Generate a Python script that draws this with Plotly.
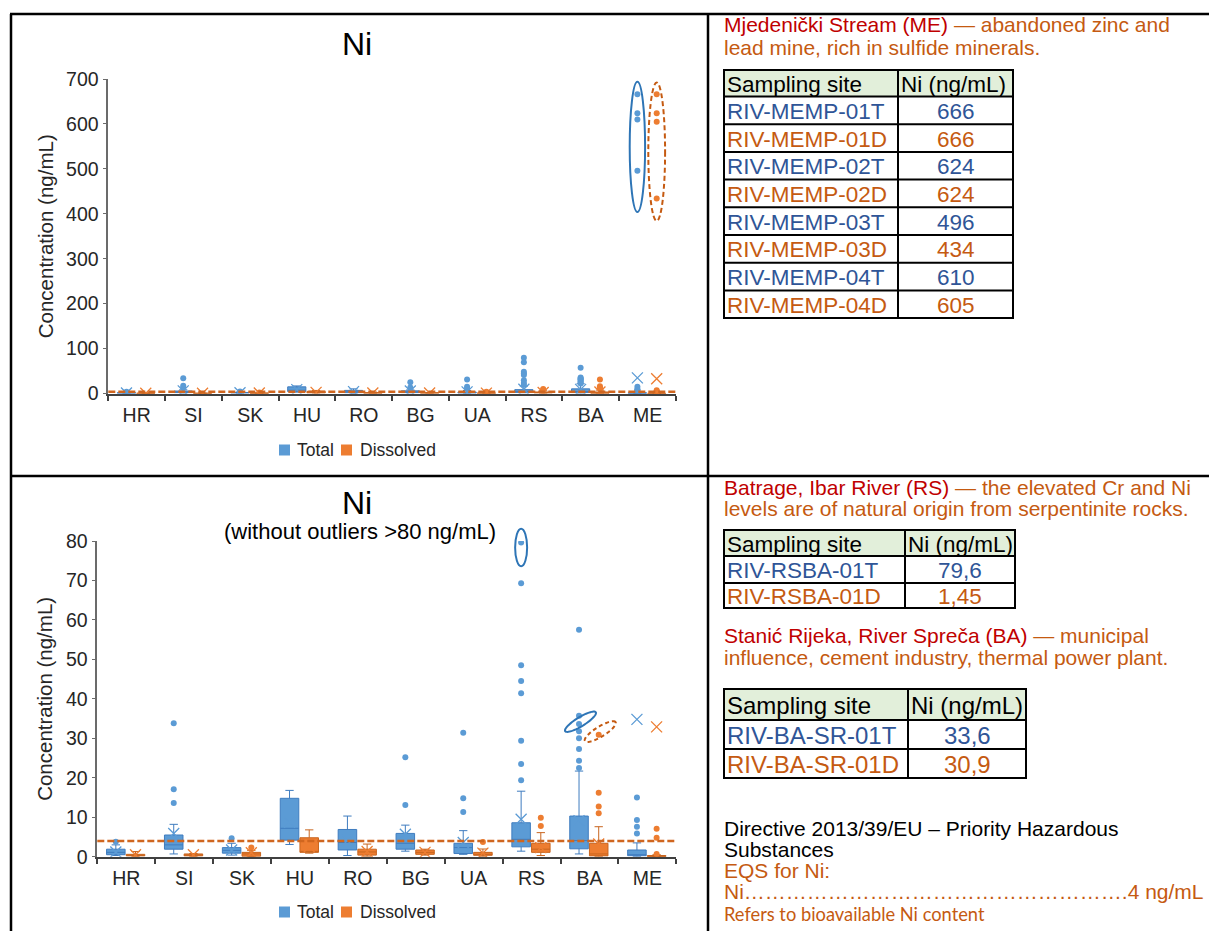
import math
import plotly.graph_objects as go

W, H = 1209, 931
FONT = "Liberation Sans, Arial, sans-serif"

# ---------------------------------------------------------------- data
countries = ["HR", "SI", "SK", "HU", "RO", "BG", "UA", "RS", "BA", "ME"]
series_names = ["Total", "Dissolved"]

# Total Ni, box-and-whisker statistics (ng/mL)
total_q1 = [0.5, 1.9, 0.9, 4.2, 1.7, 1.9, 0.8, 2.5, 2.0, 0.25]
total_median = [1.1, 3.0, 1.6, 7.2, 3.6, 3.4, 2.3, 4.4, 4.1, 0.5]
total_q3 = [1.9, 5.5, 2.3, 14.8, 6.9, 5.9, 3.4, 8.6, 10.3, 1.7]
total_low = [0.3, 0.7, 0.4, 3.1, 0.3, 1.4, 0.6, 1.4, 0.7, 0.1]
total_high = [3.0, 8.2, 3.4, 16.8, 10.3, 8.0, 6.6, 16.6, 21.7, 3.5]
total_mean = [1.2, 5.9, 1.7, 8.7, 4.1, 5.7, 3.6, 9.5, 9.1, 34.8]
total_outliers = [
    [3.8], [33.8, 17.1, 13.6], [4.65], [], [], [25.2, 13.1],
    [31.4, 14.8, 11.3],
    [79.6, 69.3, 48.5, 44.5, 41.4, 29.4, 23.5, 19.4],
    [57.5, 35.7, 33.6, 31.8, 30.0, 27.3, 24.3, 22.5],
    [15.0, 9.3, 7.6, 5.9],
]

# Dissolved Ni, box-and-whisker statistics (ng/mL)
diss_q1 = [0.2, 0.2, 0.1, 1.1, 0.4, 0.6, 0.35, 1.1, 0.2, 0.05]
diss_median = [0.3, 0.3, 0.7, 1.3, 1.2, 1.1, 0.6, 1.9, 0.7, 0.1]
diss_q3 = [0.6, 0.7, 1.1, 4.8, 1.9, 1.7, 1.1, 3.4, 3.4, 0.3]
diss_low = [0.1, 0.1, 0.05, 0.9, 0.1, 0.4, 0.1, 0.3, 0.1, 0.02]
diss_high = [1.3, 0.8, 1.6, 6.8, 3.2, 1.9, 1.95, 6.1, 7.6, 0.5]
diss_mean = [0.5, 0.5, 1.0, 2.5, 1.3, 1.1, 0.9, 2.3, 3.2, 32.9]
diss_outliers = [
    [], [], [2.3], [], [], [], [3.7], [9.9, 7.8],
    [30.9, 16.2, 12.7, 11.0],
    [7.1, 4.8, 0.7],
]

# Mjedenički Stream (ME) samples
me_sites = ["RIV-MEMP-01T", "RIV-MEMP-01D", "RIV-MEMP-02T", "RIV-MEMP-02D",
            "RIV-MEMP-03T", "RIV-MEMP-03D", "RIV-MEMP-04T", "RIV-MEMP-04D"]
me_values = [666, 666, 624, 624, 496, 434, 610, 605]

# Batrage, Ibar River (RS)
rs_sites = ["RIV-RSBA-01T", "RIV-RSBA-01D"]
rs_values = [79.6, 1.45]

# Stanić Rijeka, River Spreča (BA)
ba_sites = ["RIV-BA-SR-01T", "RIV-BA-SR-01D"]
ba_values = [33.6, 30.9]

eqs_ni = 4          # EQS for Ni, ng/mL
outlier_cut = 80    # lower chart omits values above this

# ---------------------------------------------------------------- styling
BLUE = "#5B9BD5"
BLUE_LINE = "#3F7CBF"
ORANGE = "#ED7D31"
ORANGE_LINE = "#C8651F"
EQS_COLOR = "#D0661F"
RED_TXT = "#C00000"
ORG_TXT = "#C55A11"
BLUE_TXT = "#2F5597"

OFF_T, OFF_D, BOX_W = -0.18, 0.16, 0.32

me_total_high = [v for s, v in zip(me_sites, me_values) if s.endswith("T")]
me_diss_high = [v for s, v in zip(me_sites, me_values) if s.endswith("D")]

# plot areas in pixels: (left, right, top, bottom)
AREA_TOP = (108.3, 676.0, 79.0, 393.5)
AREA_BOT = (97.3, 676.3, 541.0, 856.7)


def px(x):
    return x / W


def py(y):
    return 1 - y / H


fig = go.Figure()


def add_chart(xa, ya, include_high):
    tpos = [i + OFF_T for i in range(len(countries))]
    dpos = [i + OFF_D for i in range(len(countries))]
    common = dict(width=BOX_W, whiskerwidth=0.45, boxpoints=False,
                  showlegend=False, hoverinfo="skip", xaxis=xa, yaxis=ya)
    fig.add_trace(go.Box(x=tpos, q1=total_q1, median=total_median, q3=total_q3,
                         lowerfence=total_low, upperfence=total_high,
                         name=series_names[0],
                         fillcolor=BLUE, line=dict(color=BLUE_LINE, width=1),
                         **common))
    fig.add_trace(go.Box(x=dpos, q1=diss_q1, median=diss_median, q3=diss_q3,
                         lowerfence=diss_low, upperfence=diss_high,
                         name=series_names[1],
                         fillcolor=ORANGE, line=dict(color=ORANGE_LINE, width=1),
                         **common))

    for pos, outs, high, color in (
        (tpos, total_outliers, me_total_high, BLUE),
        (dpos, diss_outliers, me_diss_high, ORANGE),
    ):
        xs, ys = [], []
        for i, vals in enumerate(outs):
            extra = high if (include_high and countries[i] == "ME") else []
            for v in list(vals) + list(extra):
                if include_high or v <= outlier_cut:
                    xs.append(pos[i])
                    ys.append(v)
        fig.add_trace(go.Scatter(x=xs, y=ys, mode="markers",
                                 marker=dict(color=color, size=6),
                                 showlegend=False, hoverinfo="skip",
                                 xaxis=xa, yaxis=ya))

    for pos, means, color in ((tpos, total_mean, BLUE), (dpos, diss_mean, ORANGE)):
        fig.add_trace(go.Scatter(x=pos, y=means, mode="markers",
                                 marker=dict(symbol="x-thin-open", size=11, color=color,
                                             line=dict(color=color, width=1.3)),
                                 showlegend=False, hoverinfo="skip",
                                 xaxis=xa, yaxis=ya))

    # EQS line
    fig.add_shape(type="line", xref=f"{xa} domain", yref=ya, x0=0, x1=1,
                  y0=eqs_ni, y1=eqs_ni,
                  line=dict(color=EQS_COLOR, width=2.5, dash="7px,3px"))


add_chart("x", "y", True)
add_chart("x2", "y2", False)

# ---------------------------------------------------------------- axes
tick_font = dict(family=FONT, size=19.5, color="#262626")


def xaxis_cfg(area, anchor):
    return dict(domain=[px(area[0]), px(area[1])], anchor=anchor,
                range=[-0.5, len(countries) - 0.5],
                tickmode="array", tickvals=list(range(len(countries))),
                ticktext=countries, ticks="", tickfont=tick_font,
                ticklabelstandoff=3, automargin=False,
                minor=dict(tickmode="array",
                           tickvals=[i - 0.5 for i in range(len(countries) + 1)],
                           ticks="outside", ticklen=5, tickwidth=1.5,
                           tickcolor="#404040", showgrid=False),
                showline=True, linecolor="#404040", linewidth=2,
                showgrid=False, zeroline=False, fixedrange=True)


def yaxis_cfg(area, anchor, rng, dtick):
    return dict(domain=[py(area[3]), py(area[2])], anchor=anchor,
                range=rng, dtick=dtick, tick0=0, ticks="outside", ticklen=4,
                tickwidth=1.3, tickcolor="#6B6B6B", tickfont=tick_font,
                automargin=False,
                showline=True, linecolor="#6B6B6B", linewidth=1.5,
                showgrid=False, zeroline=False, fixedrange=True)


fig.update_layout(
    xaxis=xaxis_cfg(AREA_TOP, "y"),
    yaxis=yaxis_cfg(AREA_TOP, "x", [0, 700], 100),
    xaxis2=xaxis_cfg(AREA_BOT, "y2"),
    yaxis2=yaxis_cfg(AREA_BOT, "x2", [0, 80], 10),
)

# ---------------------------------------------------------------- highlight ellipses
sx_top = (AREA_TOP[1] - AREA_TOP[0]) / len(countries)
sx_bot = (AREA_BOT[1] - AREA_BOT[0]) / len(countries)
sy_bot = (AREA_BOT[3] - AREA_BOT[2]) / 80.0
me_i = countries.index("ME")
rs_i = countries.index("RS")
ba_i = countries.index("BA")


def bot_paper_y(v):
    # vertical position on the lower chart as a paper fraction (lets a ring
    # reach above the 80 ng/mL top edge without being clipped)
    return py(AREA_BOT[3] - v * sy_bot)


fig.add_shape(type="circle", xref="x", yref="y",
              x0=me_i + OFF_T - 7.7 / sx_top, x1=me_i + OFF_T + 7.7 / sx_top,
              y0=min(me_total_high) - 92, y1=max(me_total_high) + 28,
              line=dict(color="#2E75B6", width=2))
fig.add_shape(type="circle", xref="x", yref="y",
              x0=me_i + OFF_D - 8.4 / sx_top, x1=me_i + OFF_D + 8.4 / sx_top,
              y0=min(me_diss_high) - 50, y1=max(me_diss_high) + 26,
              line=dict(color=ORG_TXT, width=2, dash="5px,3px"))
fig.add_shape(type="circle", xref="x2", yref="paper",
              x0=rs_i + OFF_T - 6 / sx_bot, x1=rs_i + OFF_T + 6 / sx_bot,
              y0=bot_paper_y(rs_values[0] - 6.0), y1=bot_paper_y(rs_values[0] + 3.5),
              line=dict(color="#2E75B6", width=2))


def ellipse_path(cx, cy, a_px, b_px, angle_deg, sx, sy, n=60):
    phi = math.radians(angle_deg)
    pts = []
    for k in range(n + 1):
        t = 2 * math.pi * k / n
        dx = a_px * math.cos(phi) * math.cos(t) - b_px * math.sin(phi) * math.sin(t)
        dy = a_px * math.sin(phi) * math.cos(t) + b_px * math.cos(phi) * math.sin(t)
        pts.append(f"{cx + dx / sx:.5f},{cy + dy / sy:.5f}")
    return "M " + " L ".join(pts) + " Z"


fig.add_shape(type="path", xref="x2", yref="y2",
              path=ellipse_path(ba_i + OFF_T + 0.025, ba_values[0] + 0.6, 18, 4.5, 31.5,
                                sx_bot, sy_bot),
              line=dict(color="#2E75B6", width=2))
fig.add_shape(type="path", xref="x2", yref="y2",
              path=ellipse_path(ba_i + OFF_D + 0.027, ba_values[1] + 0.8, 18, 5, 31.5,
                                sx_bot, sy_bot),
              line=dict(color=ORG_TXT, width=2, dash="4px,3px"))

# ---------------------------------------------------------------- panel grid
grid = dict(color="black", width=2.5)
for x0, y0, x1, y1 in ((10, 14, W, 14), (11, 14, 11, H), (708, 14, 708, H),
                       (10, 476, W, 476)):
    fig.add_shape(type="line", xref="paper", yref="paper",
                  x0=px(x0), y0=py(y0), x1=px(x1), y1=py(y1), line=grid)


# ---------------------------------------------------------------- text helpers
def add_text(x, y, text, size, color="black", family=FONT, xanchor="left",
             angle=0):
    fig.add_annotation(x=px(x), y=py(y), xref="paper", yref="paper",
                       text=text, showarrow=False, xanchor=xanchor,
                       yanchor="middle", textangle=angle,
                       font=dict(family=family, size=size, color=color))


def span(text, color):
    return f"<span style='color:{color}'>{text}</span>"


# chart titles
add_text(357, 44, "Ni", 32, "black", xanchor="center")
add_text(45, (AREA_TOP[2] + AREA_TOP[3]) / 2, "Concentration (ng/mL)", 20.5,
         "#262626", xanchor="center", angle=-90)
add_text(357, 503, "Ni", 32, "black", xanchor="center")
add_text(360, 531, "(without outliers >80 ng/mL)", 22, "black", xanchor="center")
add_text(45, (AREA_BOT[2] + AREA_BOT[3]) / 2, "Concentration (ng/mL)", 20.5,
         "#262626", xanchor="center", angle=-90)

# series keys under each chart: colour swatch + name
for key_y in (450, 912):
    for (sq_x, txt_x), name, color in zip(((279, 295), (341, 358)), series_names,
                                          (BLUE, ORANGE)):
        fig.add_shape(type="rect", xref="paper", yref="paper",
                      x0=px(sq_x), x1=px(sq_x + 11),
                      y0=py(key_y - 5.5), y1=py(key_y + 5.5),
                      fillcolor=color, line=dict(width=0))
        add_text(txt_x, key_y, name, 17.5, "#262626")

# right-hand notes
P = 21
add_text(722, 24, span("Mjedenički Stream (ME)", RED_TXT)
         + span(" — abandoned zinc and", ORG_TXT), P)
add_text(722, 47, "lead mine, rich in sulfide minerals.", P, ORG_TXT)
add_text(722, 487, span("Batrage, Ibar River (RS)", RED_TXT)
         + span(" — the elevated Cr and Ni", ORG_TXT), P)
add_text(722, 508, "levels are of natural origin from serpentinite rocks.", P, ORG_TXT)
add_text(722, 635, span("Stanić Rijeka, River Spreča (BA)", RED_TXT)
         + span(" — municipal", ORG_TXT), P)
add_text(722, 657, "influence, cement industry, thermal power plant.", P, ORG_TXT)
add_text(722, 828, "Directive 2013/39/EU – Priority Hazardous", P, "black")
add_text(722, 849, "Substances", P, "black")
add_text(722, 870, "EQS for Ni:", P, ORG_TXT)
add_text(722, 891, "Ni" + "…" * 18 + "." + f"{eqs_ni} ng/mL", P, ORG_TXT)
add_text(722, 914, "Refers to bioavailable Ni content", 18.3, ORG_TXT,
         family="Lato, Carlito, sans-serif")


# ---------------------------------------------------------------- tables
def fmt(v):
    return f"{v:g}".replace(".", ",")


def draw_table(xcols, yrows, sites, values, size):
    fig.add_shape(type="rect", xref="paper", yref="paper", layer="below",
                  x0=px(xcols[0]), x1=px(xcols[-1]), y0=py(yrows[0]), y1=py(yrows[1]),
                  fillcolor="#E2EFDA", line=dict(width=0))
    for y in yrows:
        fig.add_shape(type="line", xref="paper", yref="paper",
                      x0=px(xcols[0] - 1), x1=px(xcols[-1] + 1), y0=py(y), y1=py(y),
                      line=dict(color="black", width=2))
    for x in xcols:
        fig.add_shape(type="line", xref="paper", yref="paper",
                      x0=px(x), x1=px(x), y0=py(yrows[0]), y1=py(yrows[-1]),
                      line=dict(color="black", width=2))
    hy = (yrows[0] + yrows[1]) / 2 + 1
    add_text(xcols[0] + 1, hy, "Sampling site", size, "black")
    add_text(xcols[1] + 1, hy, "Ni (ng/mL)", size, "black")
    for r, (s, v) in enumerate(zip(sites, values)):
        c = BLUE_TXT if s.endswith("T") else ORG_TXT
        cy = (yrows[r + 1] + yrows[r + 2]) / 2 + 1
        add_text(xcols[0] + 1, cy, s, size, c)
        add_text((xcols[1] + xcols[2]) / 2, cy, fmt(v), size, c, xanchor="center")


draw_table([724, 898, 1013],
           [70, 96.5] + [96.5 + 27.7 * (k + 1) for k in range(len(me_sites))],
           me_sites, me_values, 22.5)
draw_table([724, 905, 1015], [530, 556, 583, 608], rs_sites, rs_values, 22.5)
draw_table([724, 908, 1026], [689, 720, 749, 778], ba_sites, ba_values, 24)

# ---------------------------------------------------------------- layout
fig.update_layout(
    width=W, height=H, autosize=False,
    margin=dict(l=0, r=0, t=0, b=0, pad=0, autoexpand=False),
    paper_bgcolor="white", plot_bgcolor="white",
    boxmode="overlay", showlegend=False,
    font=dict(family=FONT),
)

fig.write_html("out.html", config={"displayModeBar": False})
